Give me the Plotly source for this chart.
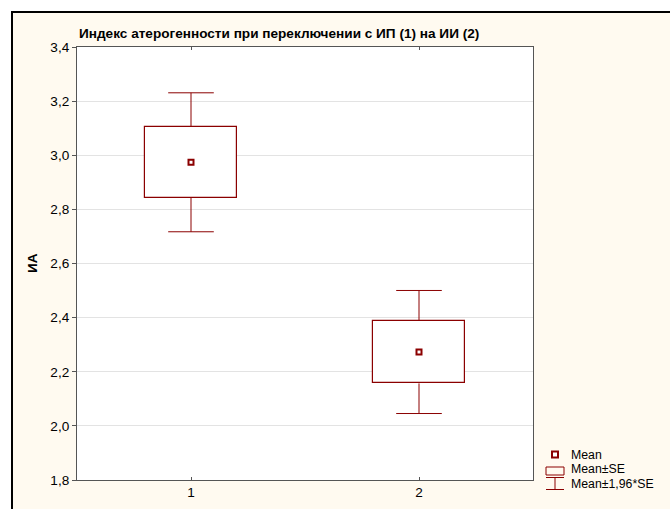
import plotly.graph_objects as go

# Group labels, means and standard errors of the atherogenic index
groups = [1, 2]
group_labels = ["1", "2"]
means = [2.974, 2.273]
se = [0.131, 0.116]

y_ticks = [1.8, 2.0, 2.2, 2.4, 2.6, 2.8, 3.0, 3.2, 3.4]
y_tick_labels = ["1,8", "2,0", "2,2", "2,4", "2,6", "2,8", "3,0", "3,2", "3,4"]

legend_labels = ["Mean", "Mean±SE", "Mean±1,96*SE"]

DARK_RED = "#8B0000"
CREAM = "#FFFAF0"
FONT = "Arial, Liberation Sans, sans-serif"
FS = 13.6
LEG_FS = 12.3

W, H = 670, 509
L, R, T, B = 77, 533, 47, 480  # plot-area pixel edges


def px(x):
    return (x - L) / (R - L)


def py(y):
    return (B - y) / (B - T)


fig = go.Figure()

# Mean ± SE boxes
fig.add_trace(go.Bar(
    x=groups,
    base=[m - s for m, s in zip(means, se)],
    y=[2 * s for s in se],
    width=0.4,
    marker=dict(color="white", line=dict(color=DARK_RED, width=1.2)),
    showlegend=False,
    hoverinfo="skip",
))

# Mean ± 1.96*SE whiskers with caps
wx, wy = [], []
for g, m, s in zip(groups, means, se):
    lo, hi = m - 1.96 * s, m + 1.96 * s
    wx += [g, g, None, g, g, None, g - 0.1, g + 0.1, None, g - 0.1, g + 0.1, None]
    wy += [m + s, hi, None, m - s, lo, None, hi, hi, None, lo, lo, None]
fig.add_trace(go.Scatter(
    x=wx, y=wy, mode="lines",
    line=dict(color=DARK_RED, width=1),
    showlegend=False, hoverinfo="skip",
))

# Means
fig.add_trace(go.Scatter(
    x=groups, y=means, mode="markers",
    marker=dict(symbol="square", size=5, color="white",
                line=dict(color=DARK_RED, width=2)),
    showlegend=False,
))

shapes = []
# white strips outside the framed panel, plus its black edge
shapes.append(dict(type="rect", xref="paper", yref="paper",
                   x0=px(-5), x1=px(W + 5), y0=py(11), y1=py(-5),
                   fillcolor="white", line=dict(width=0), layer="above"))
shapes.append(dict(type="rect", xref="paper", yref="paper",
                   x0=px(-5), x1=px(11), y0=py(H + 5), y1=py(-5),
                   fillcolor="white", line=dict(width=0), layer="above"))
shapes.append(dict(type="line", xref="paper", yref="paper",
                   x0=px(11), x1=px(W + 5), y0=py(12), y1=py(12),
                   line=dict(color="black", width=2)))
shapes.append(dict(type="line", xref="paper", yref="paper",
                   x0=px(12), x1=px(12), y0=py(11), y1=py(H + 5),
                   line=dict(color="black", width=2)))

# legend glyphs
# Mean
shapes.append(dict(type="rect", xref="paper", yref="paper",
                   x0=px(552), x1=px(558), y0=py(457.5), y1=py(451.5),
                   fillcolor="white", line=dict(color=DARK_RED, width=2)))
# Mean±SE
shapes.append(dict(type="rect", xref="paper", yref="paper",
                   x0=px(546), x1=px(564), y0=py(475), y1=py(467),
                   fillcolor=CREAM, line=dict(color=DARK_RED, width=1)))
# Mean±1,96*SE
for (x0, y0, x1, y1) in [(546, 477.5, 564, 477.5), (546, 489.5, 564, 489.5),
                         (555, 477.5, 555, 489.5)]:
    shapes.append(dict(type="line", xref="paper", yref="paper",
                       x0=px(x0), x1=px(x1), y0=py(y0), y1=py(y1),
                       line=dict(color=DARK_RED, width=1)))

annotations = []
for text, y in zip(legend_labels, [455, 469.3, 483.6]):
    annotations.append(dict(text=text, xref="paper", yref="paper",
                            x=px(570), y=py(y), xanchor="left", yanchor="middle",
                            showarrow=False, borderpad=0,
                            font=dict(family=FONT, size=LEG_FS, color="black")))

annotations.append(dict(text="<b>Индекс атерогенности при переключении с ИП (1) на ИИ (2)</b>",
                        xref="paper", yref="paper", x=px(77), y=py(33),
                        xanchor="left", yanchor="middle", showarrow=False,
                        font=dict(family=FONT, size=FS, color="black")))
annotations.append(dict(text="<b>ИА</b>", xref="paper", yref="paper",
                        x=px(32), y=py(263), xanchor="center", yanchor="middle",
                        textangle=-90, showarrow=False,
                        font=dict(family=FONT, size=FS, color="black")))

fig.update_layout(
    width=W, height=H,
    margin=dict(l=L, r=W - R, t=T, b=H - B, pad=0),
    paper_bgcolor=CREAM,
    plot_bgcolor="white",
    font=dict(family=FONT, size=FS, color="black"),
    shapes=shapes,
    annotations=annotations,
    showlegend=False,
    bargap=0,
)
fig.update_xaxes(
    range=[0.5, 2.5], tickvals=groups, ticktext=group_labels,
    showgrid=False, zeroline=False, automargin=False,
    showline=True, linecolor="#555555", linewidth=1, mirror="ticks",
    ticks="inside", ticklen=3, tickcolor="#555555",
    tickfont=dict(family=FONT, size=FS, color="black"),
)
fig.update_yaxes(
    range=[1.8, 3.4], tickvals=y_ticks, ticktext=y_tick_labels,
    showgrid=True, gridcolor="#E3E3E3", gridwidth=1, zeroline=False, automargin=False,
    showline=True, linecolor="#555555", linewidth=1, mirror=True,
    ticks="outside", ticklen=4, tickcolor="#555555",
    tickfont=dict(family=FONT, size=FS, color="black"),
)

fig.write_html("out.html")
